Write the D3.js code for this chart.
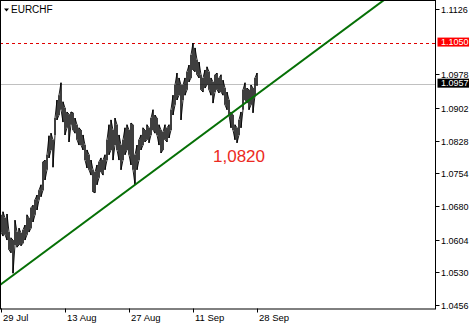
<!doctype html>
<html lang="en">
<head>
  <meta charset="utf-8">
  <title>EURCHF</title>
  <script src="https://d3js.org/d3.v7.min.js"></script>
  <style>
    html, body { margin: 0; padding: 0; background: #fff; }
    svg { display: block; font-family: "Liberation Sans", Arial, sans-serif; }
    .ylab { font-size: 9px; }
    .xlab { font-size: 9.5px; }
  </style>
</head>
<body>
  <div id="chart"></div>
  <script>
    const symbol = "EURCHF";
    // bar highs / lows, one per bar index
    const highs = [1.0660,1.0667,1.0653,1.0662,1.0621,1.0608,1.0603,1.0648,1.0621,1.0630,
      1.0619,1.0626,1.0637,1.0660,1.0653,1.0676,1.0682,1.0694,1.0705,1.0716,
      1.0728,1.0780,1.0784,1.0796,1.0839,1.0845,1.0830,1.0879,1.0920,1.0931,
      1.0959,1.0916,1.0902,1.0893,1.0888,1.0893,1.0891,1.0879,1.0864,1.0857,
      1.0852,1.0841,1.0818,1.0807,1.0796,1.0784,1.0762,1.0757,1.0773,1.0780,
      1.0789,1.0784,1.0796,1.0830,1.0864,1.0875,1.0852,1.0879,1.0864,1.0841,
      1.0818,1.0830,1.0857,1.0864,1.0852,1.0868,1.0864,1.0796,1.0818,1.0830,
      1.0841,1.0857,1.0852,1.0864,1.0857,1.0879,1.0898,1.0886,1.0879,1.0864,
      1.0852,1.0848,1.0864,1.0857,1.0864,1.0898,1.0931,1.0954,1.0981,1.0970,
      1.0954,1.0954,1.0970,1.0984,1.0999,1.1022,1.1049,1.1038,1.1011,1.1006,
      1.0977,1.0970,1.0988,1.0995,1.0984,1.0970,1.0961,1.0977,1.0981,1.0970,
      1.0977,1.0965,1.0947,1.0938,1.0920,1.0893,1.0886,1.0864,1.0857,1.0875,
      1.0893,1.0943,1.0959,1.0947,1.0943,1.0954,1.0947,1.0970,1.0981];
    const lows = [1.0621,1.0612,1.0615,1.0603,1.0581,1.0574,1.0528,1.0592,1.0587,1.0592,
      1.0590,1.0596,1.0603,1.0615,1.0621,1.0630,1.0644,1.0660,1.0671,1.0694,
      1.0701,1.0716,1.0739,1.0762,1.0789,1.0807,1.0768,1.0841,1.0875,1.0886,
      1.0898,1.0870,1.0841,1.0857,1.0825,1.0864,1.0852,1.0845,1.0830,1.0818,
      1.0818,1.0807,1.0784,1.0766,1.0762,1.0750,1.0712,1.0710,1.0728,1.0744,
      1.0757,1.0750,1.0762,1.0784,1.0796,1.0807,1.0784,1.0818,1.0807,1.0784,
      1.0762,1.0784,1.0796,1.0807,1.0796,1.0773,1.0762,1.0728,1.0762,1.0784,
      1.0807,1.0818,1.0825,1.0830,1.0823,1.0841,1.0852,1.0845,1.0841,1.0818,
      1.0800,1.0807,1.0830,1.0825,1.0834,1.0852,1.0886,1.0909,1.0920,1.0931,
      1.0875,1.0920,1.0931,1.0943,1.0961,1.0970,1.0988,1.0984,1.0977,1.0970,
      1.0943,1.0938,1.0947,1.0954,1.0943,1.0931,1.0913,1.0938,1.0943,1.0936,
      1.0938,1.0931,1.0909,1.0898,1.0886,1.0857,1.0852,1.0830,1.0823,1.0841,
      1.0857,1.0898,1.0920,1.0913,1.0898,1.0909,1.0891,1.0931,1.0952];
    const yTicks = [1.0456,1.0530,1.0604,1.0680,1.0754,1.0828,1.0902,1.0978,1.1126];
    const xTickIdx = [0,32,64,96,128];
    const xTickLabels = ["29 Jul","13 Aug","27 Aug","11 Sep","28 Sep"];
    const levelPrice = 1.1050;
    const lastPrice = 1.0957;
    const trendIdx = [0,128];
    const trendPrice = [1.0503,1.0933];
    const lowMark = {idx: 106, price: 1.0820, text: "1,0820"};

    const W = 469, H = 324;
    const plot = {left: 0, top: 0, right: 435, bottom: 308.5};

    const x = d3.scaleLinear().domain([0,128]).range([1,257]);
    const y = d3.scaleLinear().domain([1.0456,1.1126]).range([305,9]);

    const svg = d3.select('#chart').append('svg')
      .attr('width', W).attr('height', H);

    svg.append('clipPath').attr('id','clip')
      .append('rect')
        .attr('x', plot.left).attr('y', plot.top)
        .attr('width', plot.right - plot.left).attr('height', plot.bottom - plot.top);

    const g = svg.append('g').attr('clip-path','url(#clip)');

    // level lines
    g.append('line')
      .attr('x1', plot.left).attr('x2', plot.right)
      .attr('y1', Math.round(y(lastPrice)) + 0.5).attr('y2', Math.round(y(lastPrice)) + 0.5)
      .attr('stroke', '#c0c0c0').attr('stroke-width', 1);
    g.append('line')
      .attr('x1', plot.left).attr('x2', plot.right)
      .attr('y1', Math.round(y(levelPrice)) + 0.5).attr('y2', Math.round(y(levelPrice)) + 0.5)
      .attr('stroke', '#e00000').attr('stroke-width', 1)
      .attr('stroke-dasharray', '3,3');

    // price bars
    const bars = highs.map((h, i) => ({i, h, l: lows[i]}));
    g.selectAll('.bar').data(bars).join('line')
      .attr('class','bar')
      .attr('x1', d => x(d.i)).attr('x2', d => x(d.i))
      .attr('y1', d => y(d.h)).attr('y2', d => y(d.l))
      .attr('stroke', '#000').attr('stroke-width', 1.1);
    const zig = [];
    bars.forEach(d => {
      if (d.i % 2 === 0) { zig.push([x(d.i), y(d.h)], [x(d.i), y(d.l)]); }
      else { zig.push([x(d.i), y(d.l)], [x(d.i), y(d.h)]); }
    });
    g.append('path')
      .attr('d', d3.line()(zig))
      .attr('fill','none').attr('stroke','#000').attr('stroke-width', 0.9);

    // trend line, extended across the plot
    const slope = (trendPrice[1] - trendPrice[0]) / (trendIdx[1] - trendIdx[0]);
    const tAt = i => trendPrice[0] + slope * (i - trendIdx[0]);
    const iStart = x.invert(plot.left), iEnd = x.invert(plot.right);
    g.append('line')
      .attr('x1', x(iStart)).attr('y1', y(tAt(iStart)))
      .attr('x2', x(iEnd)).attr('y2', y(tAt(iEnd)))
      .attr('stroke', '#067006').attr('stroke-width', 2);

    // annotation
    svg.append('text')
      .attr('x', x(lowMark.idx)).attr('y', y(lowMark.price) + 18)
      .attr('font-size', 17).attr('fill', '#ec2a22')
      .text(lowMark.text);

    // frame
    svg.append('rect')
      .attr('x', plot.left + 0.5).attr('y', plot.top + 0.5)
      .attr('width', plot.right - plot.left).attr('height', plot.bottom - plot.top)
      .attr('fill','none').attr('stroke','#000');

    // symbol title
    svg.append('path')
      .attr('d', d3.line()([[4,8.5],[9,8.5],[6.5,11.5]]) + 'Z')
      .attr('fill','#000');
    svg.append('text')
      .attr('x', 11).attr('y', 13).attr('font-size', 10).text(symbol);

    // y axis
    const yAxis = svg.append('g').attr('transform', `translate(${plot.right + 0.5},0)`);
    yTicks.forEach(t => {
      const ty = Math.round(y(t)) + 0.5;
      yAxis.append('line').attr('x1',0).attr('x2',4).attr('y1',ty).attr('y2',ty).attr('stroke','#000');
      yAxis.append('text').attr('class','ylab').attr('fill','#000')
        .attr('x', 5.5).attr('y', ty).attr('dy','0.35em').text(t.toFixed(4));
    });
    [[levelPrice,'#ff0000'],[lastPrice,'#000']].forEach(([p, c]) => {
      const py = y(p);
      yAxis.append('rect').attr('x', 2).attr('y', py - 5).attr('width', 40).attr('height', 9).attr('fill', c);
      yAxis.append('text').attr('class','ylab').attr('fill','#fff')
        .attr('x', 5.5).attr('y', py - 0.5).attr('dy','0.35em').text(p.toFixed(4));
    });

    // x axis
    const xAxis = svg.append('g').attr('transform', `translate(0,${plot.bottom})`);
    xTickIdx.forEach((t, k) => {
      const tx = Math.round(x(t)) + 0.5;
      xAxis.append('line').attr('x1',tx).attr('x2',tx).attr('y1',0).attr('y2',4).attr('stroke','#000');
      xAxis.append('text').attr('class','xlab')
        .attr('x', tx + 1.5).attr('y', 12.5).text(xTickLabels[k]);
    });
  </script>
</body>
</html>
